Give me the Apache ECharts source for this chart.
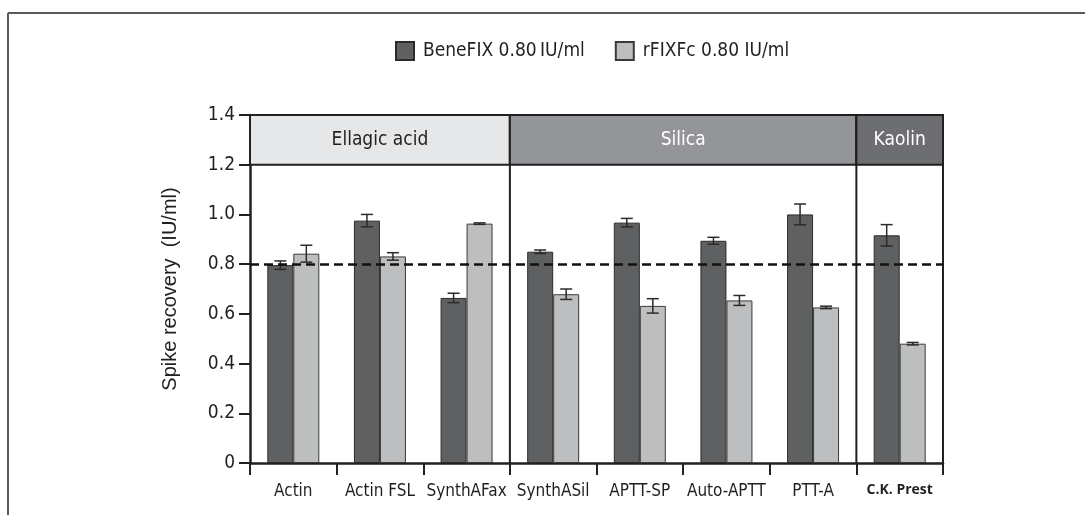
<!DOCTYPE html>
<html>
<head>
<meta charset="utf-8">
<script src="https://cdn.jsdelivr.net/npm/echarts@6/dist/echarts.min.js"></script>
<style>html,body{margin:0;padding:0;background:#fff}#c{width:1085px;height:515px}</style>
</head>
<body>
<div id="c"></div>
<script>
const categories = ['Actin','Actin FSL','SynthAFax','SynthASil','APTT-SP','Auto-APTT','PTT-A','C.K. Prest'];
const benefix    = [0.796,0.975,0.664,0.850,0.967,0.894,1.000,0.916];
const benefixErr = [0.017,0.025,0.019,0.007,0.017,0.014,0.042,0.043];
const rfixfc     = [0.842,0.831,0.963,0.679,0.632,0.654,0.626,0.480];
const rfixfcErr  = [0.034,0.015,0.003,0.021,0.029,0.020,0.005,0.005];
const groupNames = ['Ellagic acid','Silica','Kaolin'];
const groupStart = [0,3,7];
const groupEnd   = [3,7,8];
const referenceLevel = 0.8;
const seriesNames = ['BeneFIX 0.80\u2009IU/ml','rFIXFc 0.80 IU/ml'];

const groupFill = ['#e6e7e8','#939598','#6d6e71'];
const groupText = ['#231f20','#ffffff','#ffffff'];
const FONT = "'DejaVu Sans Condensed',sans-serif";
const BAR_FRAC = 0.3;

function errRender(offsetSign){
  return function(params, api){
    const i = api.value(0);
    const lo = api.value(1), hi = api.value(2);
    const bandW = api.size([1,0])[0];
    const barW = bandW*BAR_FRAC;
    const cx = api.coord([i,0])[0] + offsetSign*barW/2;
    const yLo = api.coord([i,lo])[1], yHi = api.coord([i,hi])[1];
    const cap = 6;
    const st = {stroke:'#2b2b2b', lineWidth:1.5};
    return {type:'group', children:[
      {type:'line', shape:{x1:cx,y1:yLo,x2:cx,y2:yHi}, style:st},
      {type:'line', shape:{x1:cx-cap,y1:yLo,x2:cx+cap,y2:yLo}, style:st},
      {type:'line', shape:{x1:cx-cap,y1:yHi,x2:cx+cap,y2:yHi}, style:st}
    ]};
  };
}

const chart = echarts.init(document.getElementById('c'));
chart.setOption({
  animation:false,
  backgroundColor:'#fff',
  textStyle:{fontFamily:FONT},
  graphic:[
    {type:'line', shape:{x1:8,y1:13,x2:1085,y2:13}, style:{stroke:'#5a5a5a', lineWidth:2}},
    {type:'line', shape:{x1:8,y1:13,x2:8,y2:515}, style:{stroke:'#5a5a5a', lineWidth:2}}
  ],
  legend:{
    top:36, left:390, itemWidth:18, itemHeight:18, itemGap:30,
    icon:'rect',
    textStyle:{fontFamily:FONT, fontSize:19, color:'#231f20', padding:[0,0,0,4]},
    data:seriesNames
  },
  grid:{left:250, right:142, top:115, bottom:52},
  xAxis:[{
    type:'category', data:categories,
    axisLine:{lineStyle:{color:'#231f20', width:2.5}},
    axisTick:{show:true, length:12, lineStyle:{color:'#231f20', width:2}},
    axisLabel:{
      fontFamily:FONT, fontSize:17, color:'#231f20', margin:20, interval:0,
      formatter:function(v){ return v==='C.K. Prest' ? '{b|'+v+'}' : v; },
      rich:{b:{fontFamily:"'Open Sans','DejaVu Sans Condensed',sans-serif", fontWeight:'bold', fontSize:14, color:'#231f20'}}
    }
  },{
    type:'value', min:0, max:8, show:false
  }],
  yAxis:{
    type:'value', min:0, max:1.4, interval:0.2,
    name:'Spike recovery  (IU/ml)', nameLocation:'middle', nameGap:70,
    nameTextStyle:{fontFamily:"'Liberation Sans','Arial',sans-serif", fontSize:20, color:'#231f20'},
    axisLine:{show:true, lineStyle:{color:'#231f20', width:2.5}},
    axisTick:{show:true, length:11, lineStyle:{color:'#231f20', width:2}},
    axisLabel:{fontFamily:FONT, fontSize:19, color:'#231f20', margin:15,
      formatter:function(v){ return v===0 ? '0' : v.toFixed(1); }},
    splitLine:{show:false}
  },
  series:[
    {
      name:seriesNames[0], type:'bar', data:benefix, barWidth:(BAR_FRAC*100)+'%', barGap:'0%',
      itemStyle:{color:'#5f6062', borderColor:'#2b2b2b', borderWidth:1},
      markLine:{silent:true, symbol:'none', label:{show:false},
        lineStyle:{color:'#111', type:[9,5], width:2.5},
        data:[{yAxis:referenceLevel}], z:10}
    },
    {
      name:seriesNames[1], type:'bar', data:rfixfc, barWidth:(BAR_FRAC*100)+'%', barGap:'0%',
      itemStyle:{color:'#bcbec0', borderColor:'#3a3a3a', borderWidth:1}
    },
    {
      type:'custom', renderItem:errRender(-1), z:5, silent:true,
      data:categories.map(function(c,i){ return [i, benefix[i]-benefixErr[i], benefix[i]+benefixErr[i]]; })
    },
    {
      type:'custom', renderItem:errRender(1), z:5, silent:true,
      data:categories.map(function(c,i){ return [i, rfixfc[i]-rfixfcErr[i], rfixfc[i]+rfixfcErr[i]]; })
    },
    {
      type:'custom', xAxisIndex:1, silent:true, z:3,
      renderItem:function(params, api){
        const g = api.value(2);
        const p1 = api.coord([api.value(0), 1.4]);
        const p2 = api.coord([api.value(1), 1.2]);
        const p0 = api.coord([api.value(1), 0]);
        return {type:'group', children:[
          {type:'rect', shape:{x:p1[0], y:p1[1], width:p2[0]-p1[0], height:p2[1]-p1[1]},
            style:{fill:groupFill[g], stroke:'#231f20', lineWidth:2}},
          {type:'line', shape:{x1:p2[0], y1:p1[1], x2:p2[0], y2:p0[1]},
            style:{stroke:'#231f20', lineWidth:2}},
          {type:'text', x:(p1[0]+p2[0])/2, y:(p1[1]+p2[1])/2,
            style:{text:groupNames[g], fill:groupText[g], font:'19px '+FONT, align:'center', verticalAlign:'middle'}}
        ]};
      },
      data:groupNames.map(function(n,g){ return [groupStart[g], groupEnd[g], g]; })
    }
  ]
});
</script>
</body>
</html>
